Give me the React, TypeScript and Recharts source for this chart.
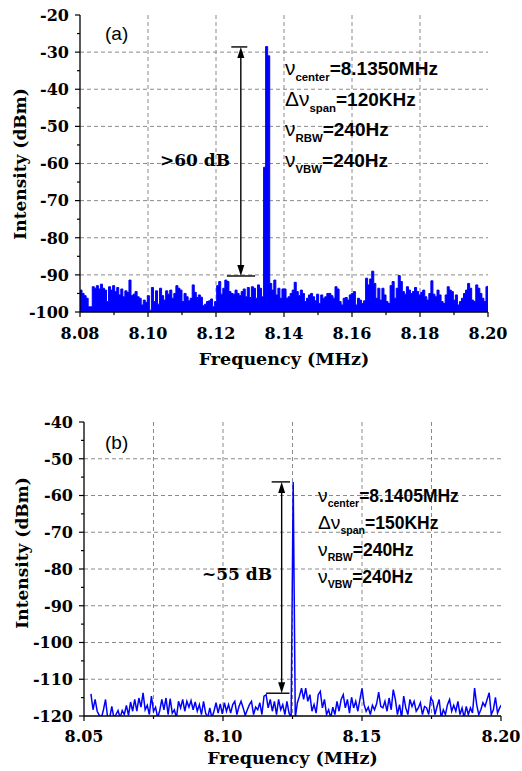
import React from 'react';
import { ComposedChart, Area, Line, XAxis, YAxis, CartesianGrid, ReferenceLine } from 'recharts';

// panel (a): analyser sweep 8.08 - 8.20 MHz, one reading every 0.6 kHz
const startA = 8.08;
const stepA = 0.0006;
const levelA = [
  -94.1, -95.0, -95.6, -96.3, -98.6, -98.6, -93.2, -93.6, -92.9, -93.8,
  -92.5, -93.6, -94.1, -97.2, -93.2, -94.1, -92.9, -94.5, -93.4, -95.4,
  -93.8, -95.9, -94.3, -94.7, -91.4, -95.6, -95.2, -94.5, -95.9, -96.3,
  -98.1, -96.8, -97.4, -95.6, -99.5, -93.4, -97.2, -94.3, -97.9, -93.6,
  -95.6, -96.8, -94.3, -95.2, -94.1, -96.3, -95.0, -92.9, -93.6, -94.1,
  -97.2, -95.0, -95.9, -97.0, -96.3, -92.7, -94.7, -96.1, -95.4, -96.0,
  -98.3, -97.9, -97.2, -97.0, -96.5, -98.6, -97.2, -92.9, -91.8,
  -95.2, -93.6, -91.4, -91.8, -94.5, -95.0, -95.2, -94.1, -95.0, -95.6,
  -94.5, -93.8, -95.9, -93.4, -96.1, -93.2, -93.6, -96.3, -92.7, -93.6,
  -95.9, -61.0, -28.5, -31.0, -92.3, -94.1, -91.4, -95.4, -93.6, -96.3,
  -93.8, -93.8, -96.3, -95.9, -95.0, -94.1, -92.0, -94.5, -95.6, -94.1,
  -95.0, -97.2, -96.3, -95.4, -95.0, -95.9, -97.0, -95.2, -97.7, -95.4,
  -96.3, -95.9, -95.0, -95.0, -95.6, -96.3, -93.2, -93.8, -97.2, -98.1,
  -96.3, -96.1, -96.8, -95.4,
  -95.0, -94.5, -98.1, -96.3, -96.8, -97.7, -97.0, -90.9, -92.7, -91.1,
  -89.0, -92.3, -96.3, -93.6, -96.8, -93.6, -95.4, -97.2, -97.7, -92.9,
  -91.8, -96.3, -93.6, -90.2, -91.8, -94.5, -95.2, -93.2, -94.1, -95.0,
  -94.5, -93.4, -94.5, -95.4, -94.7, -94.1, -95.9, -96.8, -95.0, -91.6,
  -95.2, -95.9, -94.1, -95.4, -97.2, -97.7, -95.4, -93.2, -94.1, -94.5,
  -96.8, -95.4, -98.1, -97.2, -96.3, -95.0, -94.1, -92.3, -93.6, -96.8,
  -97.2, -92.7, -93.6, -95.0, -96.3, -97.2, -93.2, -92.9,
];

// panel (b): sweep starts a little after 8.05 MHz, one reading every 0.75 kHz
const startB = 8.0525;
const stepB = 0.00075;
const levelB = [
  -114.0, -118.3, -115.5, -118.7, -119.8, -120.5, -118.3, -115.5, -120.5, -120.5,
  -117.4, -120.5, -119.6, -118.5, -120.5, -118.5, -119.6, -117.1, -119.8, -116.2,
  -118.7, -115.5, -118.7, -115.1, -117.6, -113.7, -118.3, -117.1, -119.6, -114.6,
  -118.7, -117.6, -120.5, -118.5, -115.5, -118.3, -115.1, -119.6, -115.3, -119.2,
  -118.3, -120.5, -116.0, -117.8, -115.5, -118.7, -116.0, -117.6, -115.8, -118.3,
  -116.2, -118.7, -116.9, -119.6, -116.0, -119.2, -120.5, -117.8, -120.5, -118.7,
  -116.4, -119.2, -116.7, -119.4,
  -116.4, -118.7, -116.9, -119.2, -116.9, -116.0, -119.6, -117.4, -116.0, -117.8,
  -119.8, -118.3, -116.9, -116.0, -119.6, -117.6, -118.3, -116.4, -119.6, -114.6,
  -114.2, -117.8, -115.5, -118.7, -116.0, -119.6, -115.5, -118.3, -116.9, -119.6,
  -116.0, -119.2, -120.5, -56.3, -120.5, -116.4, -114.6, -112.4, -115.5, -112.4,
  -116.0, -114.2, -118.7, -116.9, -119.2, -114.2, -113.3, -117.8, -115.5, -119.6,
  -118.3, -120.5, -117.6, -119.6, -116.0, -118.7, -115.5, -114.2, -117.8, -115.5,
  -119.2, -114.9, -117.8, -116.0, -118.7, -115.5, -112.5,
  -116.9, -118.7, -117.6, -119.6, -117.1, -118.3, -116.7, -113.5, -117.4, -117.8,
  -116.0, -118.7, -115.1, -118.3, -112.8, -115.5, -119.6, -116.9, -120.5, -114.6,
  -117.8, -119.6, -115.5, -117.4, -116.0, -118.7, -117.8, -116.4, -119.6, -117.4,
  -117.8, -119.6, -115.1, -116.0, -119.6, -117.4, -115.5, -120.5, -118.3, -119.6,
  -116.9, -115.5, -118.7, -117.1, -118.7, -116.0, -119.6, -117.8, -120.5, -117.4,
  -119.6, -117.8, -119.2, -112.4, -116.9, -119.6, -118.3, -116.4, -117.4, -115.5,
  -113.7, -119.6, -118.3, -114.9, -119.2, -117.8, -116.9, -118.3,
];

// axes
const xTicksA = [8.08, 8.09, 8.1, 8.11, 8.12, 8.13, 8.14, 8.15, 8.16, 8.17, 8.18, 8.19, 8.2];
const xLabelsA = [8.08, 8.1, 8.12, 8.14, 8.16, 8.18, 8.2];
const xGridA = [8.1, 8.12, 8.14, 8.16, 8.18];
const yTicksA = [-100, -95, -90, -85, -80, -75, -70, -65, -60, -55, -50, -45, -40, -35, -30, -25, -20];
const yLabelsA = [-100, -90, -80, -70, -60, -50, -40, -30, -20];
const yGridA = [-90, -80, -70, -60, -50, -40, -30];

const xTicksB = [8.05, 8.075, 8.1, 8.125, 8.15, 8.175, 8.2];
const xLabelsB = [8.05, 8.1, 8.15, 8.2];
const xGridB = [8.075, 8.1, 8.125, 8.15, 8.175];
const yTicksB = [-120, -115, -110, -105, -100, -95, -90, -85, -80, -75, -70, -65, -60, -55, -50, -45, -40];
const yLabelsB = [-120, -110, -100, -90, -80, -70, -60, -50, -40];
const yGridB = [-110, -100, -90, -80, -70, -60, -50];

// annotations
const arrowA = { f: 8.1273, top: -28.6, bottom: -90.3, topCap: [8.1245, 8.1292], bottomCap: [8.1232, 8.1315] };
const arrowB = { f: 8.1211, top: -56.3, bottom: -113.8, topCap: [8.1175, 8.1241], bottomCap: [8.1155, 8.1239] };
const paramsA = [
  ['ν', 'center', '=8.1350MHz'],
  ['Δν', 'span', '=120KHz'],
  ['ν', 'RBW', '=240Hz'],
  ['ν', 'VBW', '=240Hz'],
];
const paramsB = [
  ['ν', 'center', '=8.1405MHz'],
  ['Δν', 'span', '=150KHz'],
  ['ν', 'RBW', '=240Hz'],
  ['ν', 'VBW', '=240Hz'],
];

const dataA = levelA.map((v, i) => ({ f: +(startA + i * stepA).toFixed(5), v }));
const dataB = levelB.map((v, i) => ({ f: +(startB + i * stepB).toFixed(5), v }));

const serif = "'DejaVu Serif', serif";
const sans = "'Liberation Sans', Arial, sans-serif";
const BLUE = '#0000ff';

const LeftTick = (p: any) => {
  const { x, y, payload, major } = p;
  const big = major.includes(payload.value);
  return (
    <g>
      <line x1={x - (big ? 5 : 3)} x2={x} y1={y} y2={y} stroke="#000" strokeWidth={1.2} />
      {big && (
        <text x={x - 11} y={y + 5.8} textAnchor="end" fontFamily={serif} fontWeight="bold" fontSize={16} fill="#000">
          {payload.value}
        </text>
      )}
    </g>
  );
};

const BottomTick = (p: any) => {
  const { x, y, payload, major, dy } = p;
  const big = major.includes(payload.value);
  return (
    <g>
      <line x1={x} x2={x} y1={y} y2={y + (big ? 5 : 3)} stroke="#000" strokeWidth={1.2} />
      {big && (
        <text x={x} y={y + dy} textAnchor="middle" fontFamily={serif} fontWeight="bold" fontSize={16} fill="#000">
          {payload.value.toFixed(2)}
        </text>
      )}
    </g>
  );
};

const TopTick = (p: any) => {
  const { x, y, payload, major } = p;
  const big = major.includes(payload.value);
  return <line x1={x} x2={x} y1={y} y2={y + (big ? 5 : 3)} stroke="#000" strokeWidth={1.2} />;
};

const RightTick = (p: any) => {
  const { x, y, payload, major } = p;
  const big = major.includes(payload.value);
  return <line x1={x - (big ? 5 : 3)} x2={x} y1={y} y2={y} stroke="#000" strokeWidth={1.2} />;
};

const ArrowShape = (p: any) => {
  const { x1, y1, y2 } = p;
  const top = Math.min(y1, y2);
  const bot = Math.max(y1, y2);
  return (
    <g>
      <line x1={x1} x2={x1} y1={top + 8} y2={bot - 8} stroke="#000" strokeWidth={1.4} />
      <path d={`M${x1} ${top} l-3.5 11 h7 z`} fill="#000" />
      <path d={`M${x1} ${bot} l-3.5 -11 h7 z`} fill="#000" />
    </g>
  );
};

const Params = ({ x, y, gap, size, rows }: any) => (
  <g>
    {rows.map((r: string[], k: number) => (
      <text key={k} x={x} y={y + k * gap} fontFamily={sans} fontSize={size} fontWeight="bold" fill="#000">
        <tspan fontWeight="normal" fontSize={size * 1.1}>{r[0]}</tspan>
        <tspan fontSize={size * 0.6} dy={size * 0.32}>{r[1]}</tspan>
        <tspan dy={-size * 0.32}>{r[2]}</tspan>
      </text>
    ))}
  </g>
);

const axisLine = { stroke: '#000', strokeWidth: 1.3 };

function Arrow({ a }: any) {
  return (
    <>
      <ReferenceLine segment={[{ x: a.f, y: a.top }, { x: a.f, y: a.bottom }]} shape={ArrowShape} />
      <ReferenceLine segment={[{ x: a.topCap[0], y: a.top }, { x: a.topCap[1], y: a.top }]} stroke="#000" strokeWidth={1.4} />
      <ReferenceLine segment={[{ x: a.bottomCap[0], y: a.bottom }, { x: a.bottomCap[1], y: a.bottom }]} stroke="#000" strokeWidth={1.4} />
    </>
  );
}

function PanelA() {
  const xd: [number, number] = [8.08, 8.2];
  const yd: [number, number] = [-100, -20];
  return (
    <div style={{ position: 'absolute', left: 0, top: 0, width: 522, height: 380 }}>
      <ComposedChart width={522} height={380} data={dataA} margin={{ top: 15, right: 34, bottom: 8, left: 20 }}>
        <CartesianGrid stroke="#8a8a8a" strokeDasharray="4 3" horizontalValues={yGridA} verticalValues={xGridA} />
        <XAxis dataKey="f" type="number" domain={xd} ticks={xTicksA} interval={0} allowDataOverflow height={60}
          tickSize={0} tickMargin={0} tickLine={false} axisLine={axisLine} tick={<BottomTick major={xLabelsA} dy={27} />} />
        <XAxis xAxisId="top" orientation="top" dataKey="f" type="number" domain={xd} ticks={xTicksA} interval={0}
          allowDataOverflow height={0} tickSize={0} tickMargin={0} tickLine={false} axisLine={axisLine} tick={<TopTick major={xLabelsA} />} />
        <YAxis type="number" domain={yd} ticks={yTicksA} interval={0} allowDataOverflow width={60}
          tickSize={0} tickMargin={0} tickLine={false} axisLine={axisLine} tick={<LeftTick major={yLabelsA} />} />
        <YAxis yAxisId="right" orientation="right" type="number" domain={yd} ticks={yTicksA} interval={0}
          allowDataOverflow width={0} tickSize={0} tickMargin={0} tickLine={false} axisLine={axisLine} tick={<RightTick major={yLabelsA} />} />
        <Area dataKey="v" type="stepAfter" baseValue={-100} stroke={BLUE} strokeWidth={1} fill={BLUE} fillOpacity={1}
          dot={false} activeDot={false} isAnimationActive={false} />
        {Arrow({ a: arrowA })}
      </ComposedChart>
      <svg width={522} height={380} style={{ position: 'absolute', left: 0, top: 0, pointerEvents: 'none' }}>
        <text x={105} y={40} fontFamily={sans} fontSize={19} fill="#000">(a)</text>
        <text x={160} y={166} fontFamily={serif} fontWeight="bold" fontSize={17} fill="#000">&gt;60 dB</text>
        <Params x={285} y={75} gap={30.5} size={19} rows={paramsA} />
        <text x={284} y={365} textAnchor="middle" fontFamily={serif} fontWeight="bold" fontSize={17.5} fill="#000">Frequency (MHz)</text>
        <text x={20} y={164} transform="rotate(-90 20 164)" textAnchor="middle" dominantBaseline="central"
          fontFamily={serif} fontWeight="bold" fontSize={17} fill="#000">Intensity (dBm)</text>
      </svg>
    </div>
  );
}

function PanelB() {
  const xd: [number, number] = [8.05, 8.2];
  const yd: [number, number] = [-120, -40];
  return (
    <div style={{ position: 'absolute', left: 0, top: 380, width: 522, height: 391 }}>
      <ComposedChart width={522} height={391} data={dataB} margin={{ top: 42, right: 21, bottom: 0, left: 24 }}>
        <CartesianGrid stroke="#8a8a8a" strokeDasharray="4 3" horizontalValues={yGridB} verticalValues={xGridB} />
        <XAxis dataKey="f" type="number" domain={xd} ticks={xTicksB} interval={0} allowDataOverflow height={55}
          tickSize={0} tickMargin={0} tickLine={false} axisLine={axisLine} tick={<BottomTick major={xLabelsB} dy={26} />} />
        <XAxis xAxisId="top" orientation="top" dataKey="f" type="number" domain={xd} ticks={xTicksB} interval={0}
          allowDataOverflow height={0} tickSize={0} tickMargin={0} tickLine={false} axisLine={axisLine} tick={<TopTick major={xLabelsB} />} />
        <YAxis type="number" domain={yd} ticks={yTicksB} interval={0} allowDataOverflow width={60}
          tickSize={0} tickMargin={0} tickLine={false} axisLine={axisLine} tick={<LeftTick major={yLabelsB} />} />
        <YAxis yAxisId="right" orientation="right" type="number" domain={yd} ticks={yTicksB} interval={0}
          allowDataOverflow width={0} tickSize={0} tickMargin={0} tickLine={false} axisLine={axisLine} tick={<RightTick major={yLabelsB} />} />
        <Line dataKey="v" type="linear" stroke={BLUE} strokeWidth={1.5} dot={false} activeDot={false} isAnimationActive={false} />
        {Arrow({ a: arrowB })}
      </ComposedChart>
      <svg width={522} height={391} style={{ position: 'absolute', left: 0, top: 0, pointerEvents: 'none' }}>
        <text x={105} y={69} fontFamily={sans} fontSize={19} fill="#000">(b)</text>
        <text x={202} y={200} fontFamily={serif} fontWeight="bold" fontSize={17} fill="#000">~55 dB</text>
        <Params x={318} y={121.7} gap={27} size={17.5} rows={paramsB} />
        <text x={292.5} y={384} textAnchor="middle" fontFamily={serif} fontWeight="bold" fontSize={17.5} fill="#000">Frequency (MHz)</text>
        <text x={22} y={173} transform="rotate(-90 22 173)" textAnchor="middle" dominantBaseline="central"
          fontFamily={serif} fontWeight="bold" fontSize={17} fill="#000">Intensity (dBm)</text>
      </svg>
    </div>
  );
}

export default function App() {
  return (
    <div style={{ position: 'absolute', left: 0, top: 0, width: 522, height: 771, background: '#fff' }}>
      <PanelA />
      <PanelB />
    </div>
  );
}
